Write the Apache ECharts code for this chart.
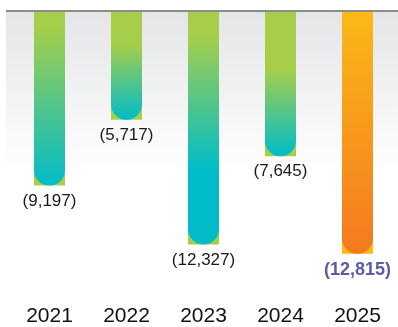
<!DOCTYPE html>
<html>
<head>
<meta charset="utf-8">
<script src="https://cdn.jsdelivr.net/npm/echarts@6/dist/echarts.min.js"></script>
<style>
html, body { margin: 0; padding: 0; background: #fff; }
#main { width: 398px; height: 327px; }
</style>
</head>
<body>
<div id="main"></div>
<script>
// 年度ごとの値（マイナス）
var years = ['2021', '2022', '2023', '2024', '2025'];
var values = [-9197, -5717, -12327, -7645, -12815];

var green = '#a6ce4a';
var teal = '#00bcc9';
// 棒ごとのグラデーション位置（見た目に合わせたもの）
var gradStops = [
    [[0, green], [0.08, green], [1, teal]],
    [[0, green], [0.3, green], [1, teal]],
    [[0, green], [0.1, green], [0.68, teal], [1, teal]],
    [[0, green], [0.4, green], [1, teal]],
    [[0, '#fbb817'], [1, '#f47920']]
];
var backColors = [green, green, green, green, '#fbb817'];

function fmt(v) {
    return '(' + Math.abs(v).toLocaleString('en-US') + ')';
}

var myChart = echarts.init(document.getElementById('main'));

var option = {
    animation: false,
    textStyle: { fontFamily: 'Liberation Sans, Arial, sans-serif' },
    graphic: [
        {
            type: 'rect',
            z: -10,
            shape: { x: 6, y: 11, width: 392, height: 162 },
            style: {
                fill: new echarts.graphic.LinearGradient(0, 0, 0, 1, [
                    { offset: 0, color: '#e4e5e7' },
                    { offset: 1, color: '#ffffff' }
                ])
            }
        },
        {
            type: 'line',
            z: 100,
            shape: { x1: 6, y1: 11, x2: 398, y2: 11 },
            style: { stroke: '#8c8c8c', lineWidth: 2 }
        }
    ],
    grid: {
        left: 11,
        right: 2,
        top: 12,
        bottom: 30
    },
    xAxis: {
        type: 'category',
        position: 'bottom',
        data: years,
        axisLine: { show: false, onZero: false },
        axisTick: { show: false },
        axisLabel: {
            color: '#111',
            fontSize: 21,
            margin: 11
        }
    },
    yAxis: {
        type: 'value',
        min: -15000,
        max: 0,
        show: false,
        splitLine: { show: false }
    },
    series: [
        {
            type: 'bar',
            barWidth: 31,
            barGap: '-100%',
            silent: true,
            data: values.map(function (v, i) {
                return { value: v, itemStyle: { color: backColors[i] } };
            })
        },
        {
            type: 'bar',
            barWidth: 31,
            data: values.map(function (v, i) {
                var item = {
                    value: v,
                    itemStyle: {
                        borderRadius: [0, 0, 15.5, 15.5],
                        color: new echarts.graphic.LinearGradient(0, 0, 0, 1,
                            gradStops[i].map(function (s) { return { offset: s[0], color: s[1] }; }))
                    }
                };
                if (i === values.length - 1) {
                    item.label = { color: '#5b5ca8', fontWeight: 'bold', fontSize: 18 };
                }
                return item;
            }),
            label: {
                show: true,
                position: 'bottom',
                distance: 7,
                fontSize: 17,
                color: '#1a1a1a',
                formatter: function (p) { return fmt(p.value); }
            }
        }
    ]
};

myChart.setOption(option);
</script>
</body>
</html>
